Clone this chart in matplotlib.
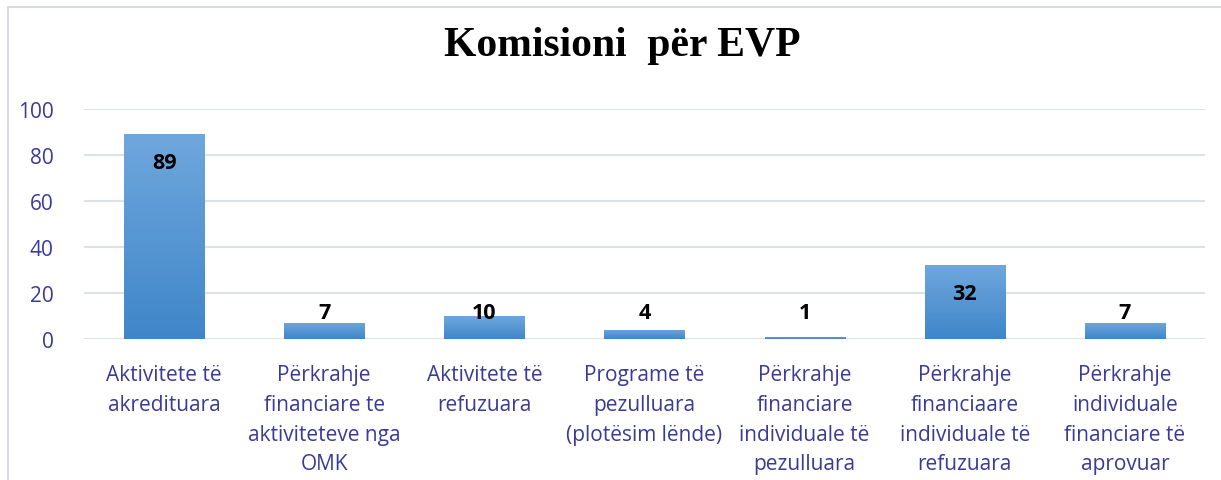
import numpy as np
import matplotlib
matplotlib.use("Agg")
import matplotlib.pyplot as plt
from matplotlib.colors import LinearSegmentedColormap
from matplotlib.patches import Rectangle

categories = [
    "Aktivitete të\nakredituara",
    "Përkrahje\nfinanciare te\naktiviteteve nga\nOMK",
    "Aktivitete të\nrefuzuara",
    "Programe të\npezulluara\n(plotësim lënde)",
    "Përkrahje\nfinanciare\nindividuale të\npezulluara",
    "Përkrahje\nfinanciaare\nindividuale të\nrefuzuara",
    "Përkrahje\nindividuale\nfinanciare të\naprovuar",
]
values = [89, 7, 10, 4, 1, 32, 7]
yticks = [0, 20, 40, 60, 80, 100]

text_blue = "#3a3a98"
grid_col = "#dde1e8"

fig = plt.figure(figsize=(12.21, 4.81), dpi=100)
ax = fig.add_axes([0.0688, 0.293, 0.918, 0.478])

# frame around the chart
fig.patches.append(Rectangle((8 / 1221, -0.1), 1.2, 1 - 8 / 481 + 0.1,
                             transform=fig.transFigure, fill=False,
                             edgecolor="#d9dde3", linewidth=1.5))

x = np.arange(len(values))
bw = 0.5
bars = ax.bar(x, values, width=bw, color="none", zorder=3)

# vertical gradient for each bar
cmap = LinearSegmentedColormap.from_list("g", ["#3f86c9", "#6fa7dd"])
grad = np.linspace(0, 1, 256).reshape(-1, 1)
for b in bars:
    x0, y0 = b.get_x(), b.get_y()
    w, h = b.get_width(), b.get_height()
    im = ax.imshow(grad, extent=[x0, x0 + w, y0, y0 + h], origin="lower",
                   cmap=cmap, aspect="auto", zorder=3)
    im.set_clip_path(b)

for xi, v in zip(x, values):
    ax.text(xi, max(v - 12.2, 11.7), str(v), ha="center", va="center",
            fontsize=15.5, fontweight="bold", color="black",
            family="Open Sans", zorder=4)

ax.set_xlim(-0.5, len(values) - 0.5)
ax.set_ylim(0, 100)
ax.set_yticks(yticks)
ax.yaxis.grid(True, color=grid_col, linewidth=1.5, zorder=0)
ax.set_axisbelow(True)
for s in ax.spines.values():
    s.set_visible(False)
ax.tick_params(axis="both", length=0, labelsize=15, labelcolor=text_blue)
ax.tick_params(axis="y", pad=22)
ax.tick_params(axis="x", pad=18)
ax.set_xticks(x)
ax.set_xticklabels(categories, linespacing=1.55)
for lbl in ax.get_xticklabels() + ax.get_yticklabels():
    lbl.set_family("Open Sans")

fig.text(0.51, 0.905, "Komisioni  për EVP", ha="center", va="center",
         fontsize=30, fontweight="bold", family="Liberation Serif")

fig.savefig("out.png", dpi=100)
